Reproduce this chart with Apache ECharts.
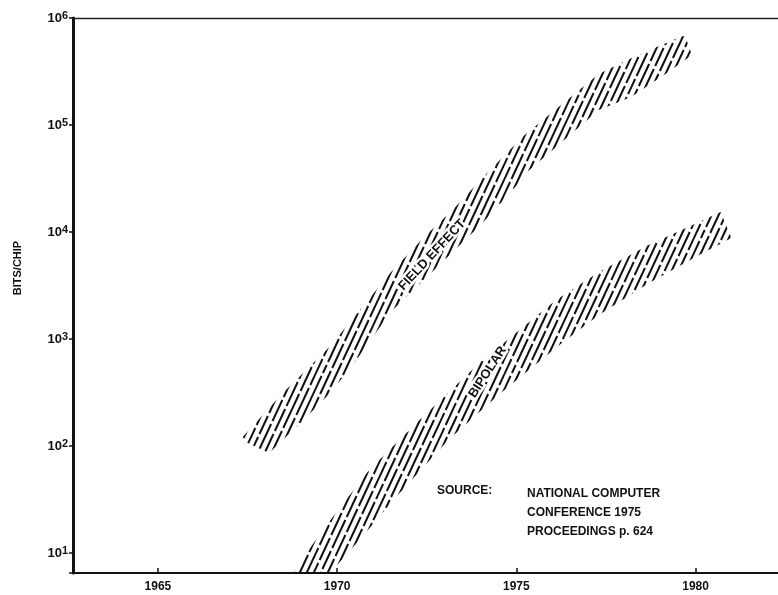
<!DOCTYPE html>
<html><head><meta charset="utf-8">
<script src="https://cdn.jsdelivr.net/npm/echarts@6/dist/echarts.min.js"></script>
<style>html,body{margin:0;padding:0;background:#fff}#c{width:778px;height:595px}</style>
</head><body><div id="c"></div>
<script>
// ---- data (years vs bits/chip) ----
const xTickYears = [1965, 1970, 1975, 1980];
const yTickValues = [10, 100, 1000, 10000, 100000, 1000000];

const feUpperYears = [1967.3, 1968.5, 1969.8, 1971.5, 1972.5, 1973.2, 1974.2, 1975.2, 1977.3, 1978.2, 1979.0, 1979.7];
const feUpperBits  = [115, 316, 850, 4200, 9500, 15800, 36000, 79000, 300000, 420000, 550000, 690000];
const feLowerYears = [1968.1, 1969.0, 1969.8, 1970.4, 1971.5, 1973.0, 1974.0, 1974.9, 1975.3, 1977.3, 1978.2, 1979.2, 1979.9];
const feLowerBits  = [86, 167, 313, 550, 1800, 5500, 11600, 24700, 36400, 138000, 183000, 306000, 450000];

const bpUpperYears = [1968.4, 1969.0, 1969.8, 1970.9, 1972.3, 1974.0, 1976.1, 1977.3, 1978.7, 1980.1, 1980.7];
const bpUpperBits  = [4, 8.6, 20, 60, 175, 610, 2300, 4200, 7600, 12400, 15400];
const bpLowerYears = [1969.5, 1969.8, 1970.6, 1971.7, 1973.1, 1974.5, 1976.2, 1977.3, 1978.7, 1980.1, 1981.0];
const bpLowerBits  = [4, 6.5, 13, 35, 114, 300, 880, 1680, 3330, 6100, 8800];

const bandNames = ['FIELD EFFECT', 'BIPOLAR'];
const bandLabelYears = [1972.65, 1974.2];
const bandLabelBits = [6100, 490];
const bandLabelAngles = [47, 57];

const sourceLines = ['NATIONAL COMPUTER', 'CONFERENCE 1975', 'PROCEEDINGS p. 624'];

// ---- hatch pattern (broken diagonal strokes, seamless tile) ----
function hatchCanvas() {
  const step = 7, W = 63, H = 135, GAP = 3;
  const gapStarts = [
    [12, 40, 71, 98, 124], [5, 33, 58, 90, 117], [20, 47, 80, 105, 130],
    [8, 29, 63, 88, 112], [16, 44, 69, 101, 127], [1, 26, 54, 83, 109],
    [23, 50, 76, 94, 121], [10, 37, 61, 86, 115], [18, 45, 66, 92, 103]
  ];
  const c = document.createElement('canvas');
  c.width = W; c.height = H;
  const g = c.getContext('2d');
  g.strokeStyle = '#111';
  g.lineWidth = 2;
  g.lineCap = 'butt';
  const xAt = (dx, y) => dx + (H - y) * W / H;
  for (let dx = -2 * W; dx <= 2 * W; dx += step) {
    const k = (((dx % W) + W) % W) / step;
    const cuts = [];
    for (let rep = -1; rep <= 1; rep++) gapStarts[k].forEach(s => cuts.push([s + rep * H, s + GAP + rep * H]));
    cuts.sort((a, b) => a[0] - b[0]);
    let y = -H;
    for (const cut of cuts) {
      if (cut[0] > y) { g.beginPath(); g.moveTo(xAt(dx, y), y); g.lineTo(xAt(dx, cut[0]), cut[0]); g.stroke(); }
      y = cut[1];
    }
    g.beginPath(); g.moveTo(xAt(dx, y), y); g.lineTo(xAt(dx, 2 * H), 2 * H); g.stroke();
  }
  return c;
}
const hatch = hatchCanvas();

const bands = [
  { uy: feUpperYears, ub: feUpperBits, ly: feLowerYears, lb: feLowerBits },
  { uy: bpUpperYears, ub: bpUpperBits, ly: bpLowerYears, lb: bpLowerBits }
];

const FONT = '"Liberation Sans", Arial, sans-serif';

const chart = echarts.init(document.getElementById('c'), null, { renderer: 'canvas' });
chart.setOption({
  animation: false,
  backgroundColor: '#fff',
  grid: { left: 73, top: 18, right: 0, bottom: 22, containLabel: false },
  xAxis: [{
    type: 'value', min: 1962.63, max: 1982.3, position: 'bottom',
    axisLine: { show: true, lineStyle: { color: '#111', width: 2 } },
    axisTick: { show: true, inside: true, length: 5, customValues: xTickYears, lineStyle: { color: '#111', width: 1.5 } },
    axisLabel: { show: true, customValues: xTickYears, formatter: v => String(Math.round(v)),
                 color: '#111', fontFamily: FONT, fontWeight: 'bold', fontSize: 12, margin: 8 },
    splitLine: { show: false }
  }, {
    type: 'value', min: 1962.63, max: 1982.3, position: 'top',
    axisLine: { show: true, onZero: false, lineStyle: { color: '#222', width: 1.3 } },
    axisTick: { show: false }, axisLabel: { show: false }, splitLine: { show: false }
  }],
  yAxis: {
    type: 'log', logBase: 10, min: 6.5, max: 1000000,
    axisLine: { show: true, lineStyle: { color: '#111', width: 3 } },
    axisTick: { show: true, inside: false, length: 4, lineStyle: { color: '#111', width: 1.5 } },
    axisLabel: {
      color: '#111', margin: 5,
      formatter: function (v) {
        const e = Math.log10(v);
        const r = Math.round(e);
        if (Math.abs(e - r) > 1e-6 || yTickValues.indexOf(Math.pow(10, r)) < 0) return '';
        return '{b|10}{s|' + r + '}';
      },
      rich: {
        b: { fontFamily: FONT, fontWeight: 'bold', fontSize: 13, color: '#111' },
        s: { fontFamily: FONT, fontWeight: 'bold', fontSize: 11, color: '#111', padding: [0, 0, 5, 0] }
      }
    },
    splitLine: { show: false }
  },
  series: [{
    type: 'custom',
    coordinateSystem: 'cartesian2d',
    clip: true,
    data: [[1970, 100, 0], [1975, 100, 1]],
    renderItem: function (params, api) {
      const b = bands[api.value(2)];
      const pts = [];
      for (let i = 0; i < b.uy.length; i++) pts.push(api.coord([b.uy[i], b.ub[i]]));
      for (let i = b.ly.length - 1; i >= 0; i--) pts.push(api.coord([b.ly[i], b.lb[i]]));
      return { type: 'polygon', shape: { points: pts }, style: { fill: { image: hatch, repeat: 'repeat' }, stroke: null } };
    },
    z: 2
  }, {
    type: 'custom',
    coordinateSystem: 'cartesian2d',
    data: bandNames.map((n, i) => [bandLabelYears[i], bandLabelBits[i], i]),
    renderItem: function (params, api) {
      const i = api.value(2);
      const p = api.coord([api.value(0), api.value(1)]);
      return {
        type: 'text', x: p[0], y: p[1], rotation: bandLabelAngles[i] * Math.PI / 180,
        style: { text: bandNames[i], fontFamily: FONT, fontWeight: 'bold', fontSize: 13, fill: '#111',
                 stroke: '#fff', lineWidth: 5, align: 'center', verticalAlign: 'middle' }
      };
    },
    z: 3
  }],
  graphic: [
    { type: 'text', x: 18, y: 268, rotation: Math.PI / 2,
      style: { text: 'BITS/CHIP', fontFamily: FONT, fontWeight: 'bold', fontSize: 11, fill: '#111', align: 'center', verticalAlign: 'middle' } },
    { type: 'text', left: 437, top: 485,
      style: { text: 'SOURCE:', fontFamily: FONT, fontWeight: 'bold', fontSize: 12, fill: '#111' } },
    { type: 'text', left: 527, top: 484,
      style: { text: sourceLines.join('\n'), fontFamily: FONT, fontWeight: 'bold', fontSize: 12, lineHeight: 19, fill: '#111' } }
  ]
});
</script>
</body></html>
